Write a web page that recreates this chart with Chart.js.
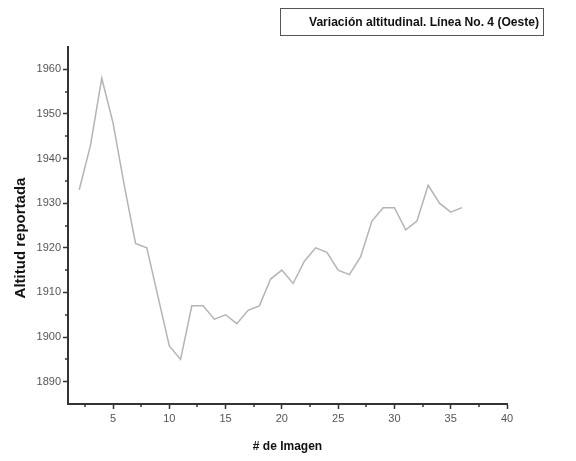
<!DOCTYPE html>
<html>
<head>
<meta charset="utf-8">
<script src="https://cdn.jsdelivr.net/npm/chart.js@4/dist/chart.umd.min.js"></script>
<style>
  html, body { margin: 0; padding: 0; background: #fff; }
  #wrap { width: 576px; height: 461px; }
</style>
</head>
<body>
<div id="wrap"><canvas id="chart" width="576" height="461"></canvas></div>
<script>
// data
var imagen = [2, 3, 4, 5, 6, 7, 8, 9, 10, 11, 12, 13, 14, 15, 16, 17, 18, 19,
              20, 21, 22, 23, 24, 25, 26, 27, 28, 29, 30, 31, 32, 33, 34, 35, 36];
var altitud = [1933, 1943, 1958, 1948, 1934, 1921, 1920, 1909, 1898, 1895, 1907, 1907, 1904, 1905, 1903, 1906, 1907, 1913,
               1915, 1912, 1917, 1920, 1919, 1915, 1914, 1918, 1926, 1929, 1929, 1924, 1926, 1934, 1930, 1928, 1929];
var xTicks = [5, 10, 15, 20, 25, 30, 35, 40];
var xMinor = [2.5, 7.5, 12.5, 17.5, 22.5, 27.5, 32.5, 37.5];
var yTicks = [1890, 1900, 1910, 1920, 1930, 1940, 1950, 1960];
var yMinor = [1895, 1905, 1915, 1925, 1935, 1945, 1955];
var titulo = 'Variación altitudinal. Línea No. 4 (Oeste)';

var sans = "'Liberation Sans', Arial, sans-serif";

var points = imagen.map(function (x, i) { return { x: x, y: altitud[i] }; });

// title box + minor ticks
var extras = {
    id: 'extras',
    afterDraw: function (chart) {
        var ctx = chart.ctx;
        ctx.save();
        ctx.strokeStyle = '#555';
        ctx.lineWidth = 1;
        ctx.strokeRect(280.5, 8.5, 263, 27);
        ctx.fillStyle = '#111';
        ctx.font = "bold 13px " + sans;
        ctx.textAlign = 'center';
        ctx.textBaseline = 'middle';
        ctx.fillText(titulo, 424, 22, 230);

        ctx.strokeStyle = '#333';
        ctx.lineWidth = 1.5;
        var xs = chart.scales.x, ys = chart.scales.y;
        xMinor.forEach(function (v) {
            var px = Math.round(xs.getPixelForValue(v));
            ctx.beginPath();
            ctx.moveTo(px, xs.top);
            ctx.lineTo(px, xs.top + 3);
            ctx.stroke();
        });
        yMinor.forEach(function (v) {
            var py = Math.round(ys.getPixelForValue(v));
            ctx.beginPath();
            ctx.moveTo(ys.right, py);
            ctx.lineTo(ys.right - 3, py);
            ctx.stroke();
        });
        ctx.restore();
    }
};

var ctx = document.getElementById('chart').getContext('2d');
var myChart = new Chart(ctx, {
    type: 'line',
    data: {
        datasets: [{
            data: points,
            borderColor: '#b4b4b4',
            borderWidth: 1.5,
            pointRadius: 0,
            tension: 0,
            fill: false
        }]
    },
    plugins: [extras],
    options: {
        responsive: false,
        animation: false,
        layout: { padding: { top: 47, right: 69, left: 0, bottom: 0 } },
        plugins: {
            legend: { display: false },
            tooltip: { enabled: false }
        },
        scales: {
            x: {
                type: 'linear',
                min: 1,
                max: 40,
                afterBuildTicks: function (scale) {
                    scale.ticks = xTicks.map(function (v) { return { value: v }; });
                },
                afterFit: function (scale) { scale.height = 57; },
                border: { color: '#333', width: 2 },
                grid: { drawOnChartArea: false, drawTicks: true, tickLength: 5, tickColor: '#333', tickWidth: 1.5 },
                ticks: {
                    color: '#555',
                    padding: 3,
                    maxRotation: 0,
                    autoSkip: false,
                    font: { family: sans, size: 11 },
                    callback: function (v) { return String(v); }
                },
                title: {
                    display: true,
                    text: '# de Imagen',
                    color: '#111',
                    padding: { top: 0, bottom: 7 },
                    font: { family: sans, size: 12, weight: 'bold' }
                }
            },
            y: {
                min: 1885,
                max: 1965,
                afterBuildTicks: function (scale) {
                    scale.ticks = yTicks.map(function (v) { return { value: v }; });
                },
                afterFit: function (scale) { scale.width = 68; },
                border: { color: '#333', width: 2 },
                grid: { drawOnChartArea: false, drawTicks: true, tickLength: 5, tickColor: '#333', tickWidth: 1.5 },
                ticks: {
                    color: '#555',
                    padding: 2,
                    autoSkip: false,
                    font: { family: sans, size: 11 },
                    callback: function (v) { return String(v); }
                },
                title: {
                    display: true,
                    text: 'Altitud reportada      ',
                    color: '#111',
                    padding: { top: 12, bottom: 0 },
                    font: { family: sans, size: 15, weight: 'bold' }
                }
            }
        }
    }
});
</script>
</body>
</html>
